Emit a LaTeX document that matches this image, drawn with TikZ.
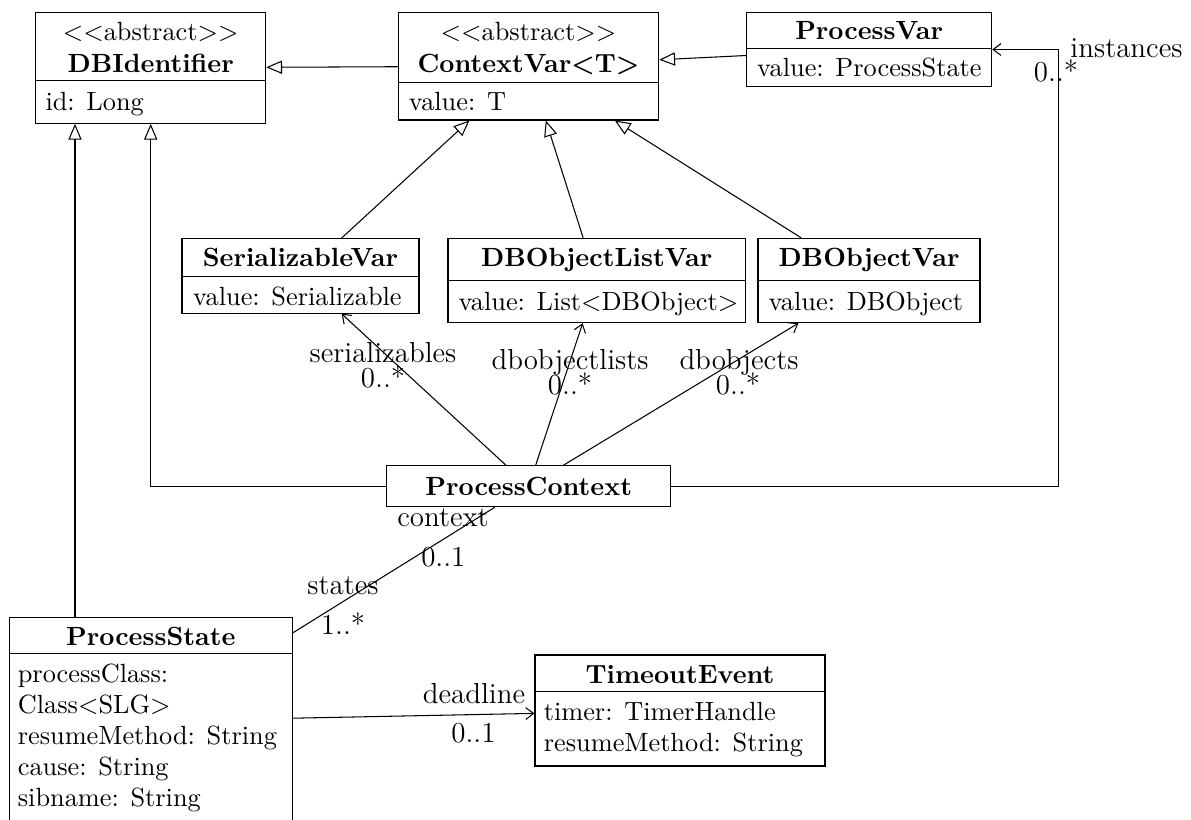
\documentclass[tikz,border=0pt]{standalone}
\usetikzlibrary{arrows.meta,calc,fit}
\tikzset{
  classbox/.style={draw, inner sep=0pt},
  ctitle/.style={inner sep=0pt, anchor=base, font=\bfseries},
  stereo/.style={inner sep=0pt, anchor=base},
  attr/.style={inner sep=0pt, anchor=base west},
  role/.style={inner sep=0pt, anchor=base, font=\fontsize{11}{13}\selectfont},
  gen/.style={draw, -{Triangle[open, length=6pt, width=5pt]}},
  assoc/.style={draw, -{Straight Barb[length=3pt, width=4.5pt]}},
  plainlink/.style={draw},
}
\newcommand{\stereoabstract}{\textless\kern0pt\textless abstract\textgreater\kern0pt\textgreater}
\begin{document}
\begin{tikzpicture}[x=0.38pt, y=-0.38pt]
\useasboundingbox (0,0) rectangle (1191,819);
\clip (0,0) rectangle (1191,819);

% ---------- class boxes ----------
\node[classbox, fit={(35.7,12.3) (265.7,123.3)}] (dbid) {};
\draw ($(dbid.north west)+(0,68.4)$) -- ($(dbid.north east)+(0,68.4)$);
\node[stereo] (dbid-s) at (150.7,40.5) {\stereoabstract};
\node[ctitle] (dbid-t) at (150.7,72.5) {DBIdentifier};
\node[attr]   (dbid-a) at (45,110) {id: Long};

\node[classbox, fit={(398.3,12.3) (658.7,120)}] (cv) {};
\draw ($(cv.north west)+(0,71)$) -- ($(cv.north east)+(0,71)$);
\node[stereo] (cv-s) at (528.5,40.5) {\stereoabstract};
\node[ctitle] (cv-t) at (528.5,72.5) {ContextVar<T>};
\node[attr]   (cv-a) at (408.3,110) {value: T};

\node[classbox, fit={(746.7,12.3) (991.7,86.7)}] (pv) {};
\draw ($(pv.north west)+(0,37)$) -- ($(pv.north east)+(0,37)$);
\node[ctitle] (pv-t) at (869.2,40) {ProcessVar};
\node[attr]   (pv-a) at (756.7,77) {value: ProcessState};

\node[classbox, fit={(182,238.5) (419,313.3)}] (sv) {};
\draw ($(sv.north west)+(0,38.2)$) -- ($(sv.north east)+(0,38.2)$);
\node[ctitle] (sv-t) at (300.5,266.7) {SerializableVar};
\node[attr]   (sv-a) at (192.7,305) {value: Serializable};

\node[classbox, fit={(448,238.3) (745.5,322.7)}] (dlv) {};
\draw ($(dlv.north west)+(0,42.7)$) -- ($(dlv.north east)+(0,42.7)$);
\node[ctitle] (dlv-t) at (596.7,266.7) {DBObjectListVar};
\node[attr]   (dlv-a) at (458,310) {value: List<DBObject>};

\node[classbox, fit={(758,238.3) (980,322.7)}] (dv) {};
\draw ($(dv.north west)+(0,42.7)$) -- ($(dv.north east)+(0,42.7)$);
\node[ctitle] (dv-t) at (869,266.7) {DBObjectVar};
\node[attr]   (dv-a) at (768,310) {value: DBObject};

\node[classbox, fit={(386.7,465.7) (670.7,506.7)}] (pc) {};
\node[ctitle] (pc-t) at (528.7,495) {ProcessContext};

\node[classbox, fit={(9.3,617.3) (292.3,824.7)}] (ps) {};
\draw ($(ps.north west)+(0,36.7)$) -- ($(ps.north east)+(0,36.7)$);
\node[ctitle] (ps-t) at (150.8,645) {ProcessState};
\node[attr] (ps-a1) at (17.3,682.7) {processClass:};
\node[attr] (ps-a2) at (17.3,713.7) {Class<SLG>};
\node[attr] (ps-a3) at (17.3,744.7) {resumeMethod: String};
\node[attr] (ps-a4) at (17.3,775.7) {cause: String};
\node[attr] (ps-a5) at (17.3,806.7) {sibname: String};

\node[classbox, fit={(535,655) (825,766)}] (te) {};
\draw ($(te.north west)+(0,36.7)$) -- ($(te.north east)+(0,36.7)$);
\node[ctitle] (te-t) at (680,683.3) {TimeoutEvent};
\node[attr] (te-a1) at (543.3,720) {timer: TimerHandle};
\node[attr] (te-a2) at (543.3,751.7) {resumeMethod: String};

% ---------- generalizations ----------
\coordinate (gx) at (75,0);
\draw[gen] (ps.north -| gx) -- (dbid.south -| gx);
\draw[gen] (pc.west) -| (dbid.south);
\draw[gen] (cv) -- (dbid);
\draw[gen] (pv) -- (cv);
\draw[gen] (sv) -- (cv);
\draw[gen] (dlv) -- (cv);
\draw[gen] (dv) -- (cv);

% ---------- associations ----------
\draw[assoc] (pc) -- (sv);
\draw[assoc] (pc) -- (dlv);
\draw[assoc] (pc) -- (dv);
\draw[assoc] (pc.east) -| ($(pv.east)+(66.6,0)$) -- (pv.east);
\draw[plainlink] (pc) -- (ps);
\draw[assoc] (ps) -- (te);

% ---------- role names and multiplicities ----------
\node[role] (r-inst)  at (1126.5,58) {instances};
\node[role] (m-inst)  at (1056,81.7) {0..*};
\node[role] (r-ser)   at (383,362) {serializables};
\node[role] (m-ser)   at (383,387) {0..*};
\node[role] (r-dbl)   at (570,369) {dbobjectlists};
\node[role] (m-dbl)   at (570,394) {0..*};
\node[role] (r-dbo)   at (739,369) {dbobjects};
\node[role] (m-dbo)   at (738,394) {0..*};
\node[role] (r-ctx)   at (443,526) {context};
\node[role] (m-ctx)   at (443.3,566.5) {0..1};
\node[role] (r-sts)   at (343,594) {states};
\node[role] (m-sts)   at (343,634) {1..*};
\node[role] (r-dl)    at (474,703) {deadline};
\node[role] (m-dl)    at (473.4,742.7) {0..1};
\end{tikzpicture}
\end{document}
